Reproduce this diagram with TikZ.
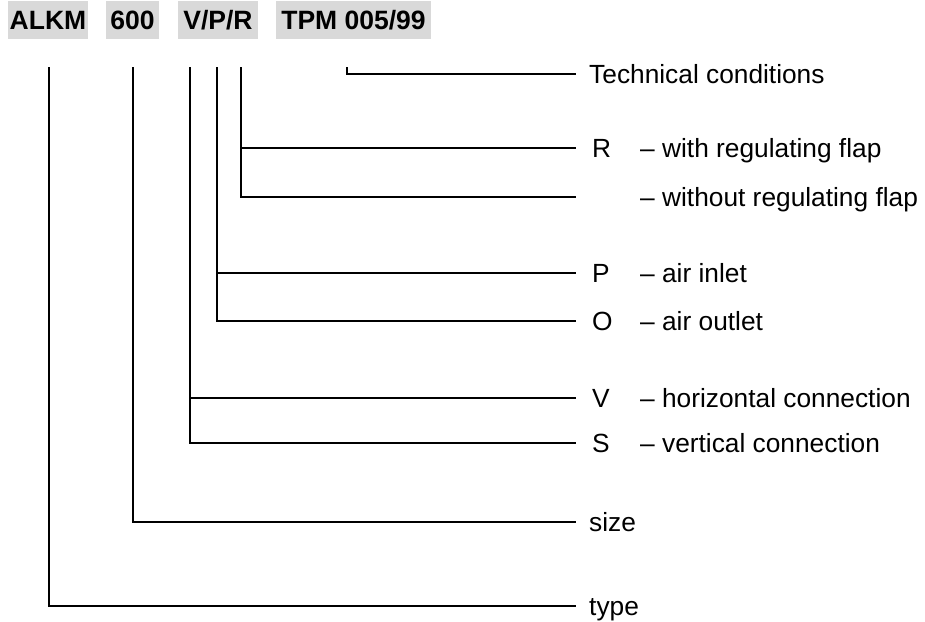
\documentclass[tikz,border=0pt]{standalone}
\usepackage{fontspec}
\setmainfont{Liberation Sans}
\definecolor{hdrgray}{HTML}{D9D9D9}
\begin{document}
\begin{tikzpicture}[x=1pt,y=-1pt,
  ln/.style={line width=1.5pt, line cap=rect},
  hdr/.style={fill=hdrgray, inner sep=0pt, minimum height=38pt,
              font=\fontsize{26.5}{30}\selectfont\bfseries},
  lbl/.style={anchor=base west, inner sep=0pt, font=\fontsize{26.3}{30}\selectfont}]
\useasboundingbox (0,0) rectangle (925,621);
% header
\node[hdr, minimum width=80pt]  (alkm) at (48,20)    {ALKM};
\node[hdr, minimum width=53pt]  (size) at (132.5,20) {600};
\node[hdr, minimum width=80pt]  (vpr)  at (218,20)   {V/P/R};
\node[hdr, minimum width=155pt] (tpm)  at (353.5,20) {TPM 005/99};
% top ends of stems
\coordinate (tType) at (49,68);
\coordinate (tSize) at (133,68);
\coordinate (tV)    at (190,68);
\coordinate (tP)    at (217,68);
\coordinate (tR)    at (241,68);
\coordinate (tT)    at (347,68);
% right ends of branches
\coordinate (eT)  at (575,74);
\coordinate (eR)  at (575,148);
\coordinate (eW)  at (575,197);
\coordinate (eP)  at (575,273);
\coordinate (eO)  at (575,321);
\coordinate (eV)  at (575,398);
\coordinate (eS)  at (575,443);
\coordinate (eSz) at (575,522);
\coordinate (eTy) at (575,606);
% connectors
\draw[ln] (tT) |- (eT);
\draw[ln] (tR) |- (eW);
\draw[ln] (tR |- eR) -- (eR);
\draw[ln] (tP) |- (eO);
\draw[ln] (tP |- eP) -- (eP);
\draw[ln] (tV) |- (eS);
\draw[ln] (tV |- eV) -- (eV);
\draw[ln] (tSize) |- (eSz);
\draw[ln] (tType) |- (eTy);
% labels
\node[lbl] (lT)  at (589,83.4)  {Technical conditions};
\node[lbl] (lR)  at (592,157.4) {R};
\node[lbl] (dR)  at (640,157.4) {-- with regulating flap};
\node[lbl] (dW)  at (640,206.4) {-- without regulating flap};
\node[lbl] (lP)  at (592,282.4) {P};
\node[lbl] (dP)  at (640,282.4) {-- air inlet};
\node[lbl] (lO)  at (592,330.4) {O};
\node[lbl] (dO)  at (640,330.4) {-- air outlet};
\node[lbl] (lV)  at (592,407.4) {V};
\node[lbl] (dV)  at (640,407.4) {-- horizontal connection};
\node[lbl] (lS)  at (592,452.4) {S};
\node[lbl] (dS)  at (640,452.4) {-- vertical connection};
\node[lbl] (lSz) at (589,531.4) {size};
\node[lbl] (lTy) at (589,615.4) {type};
\end{tikzpicture}
\end{document}
